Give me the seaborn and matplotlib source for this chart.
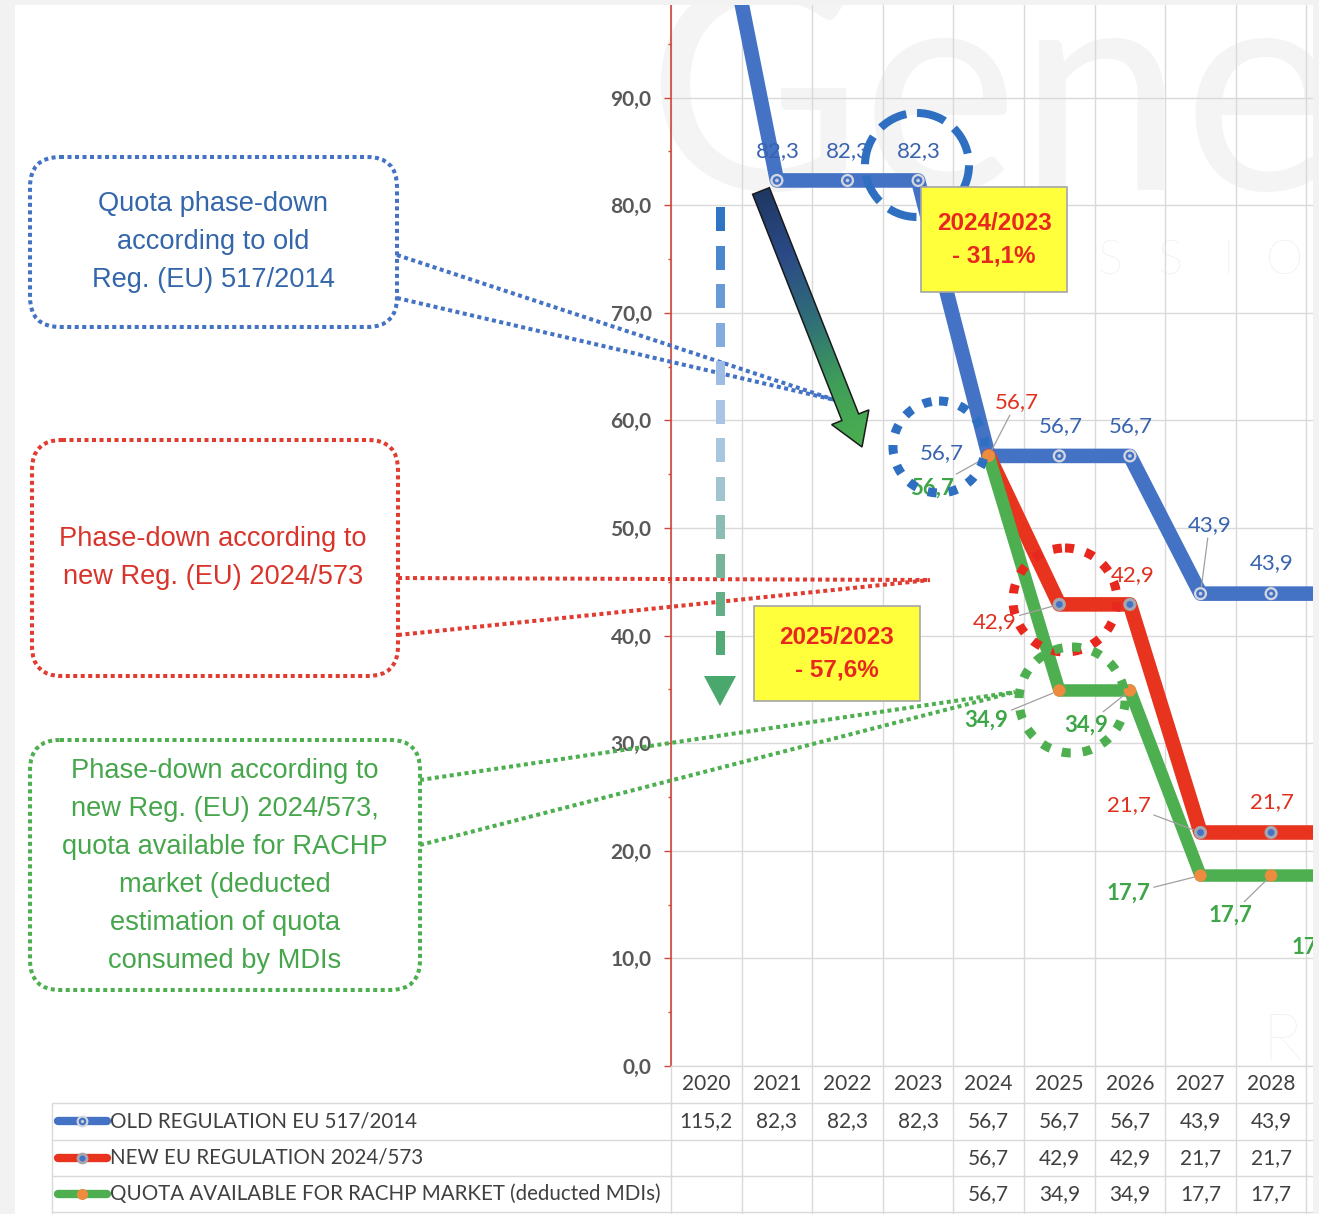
import numpy as np
import pandas as pd
import matplotlib
matplotlib.use("Agg")
import matplotlib.pyplot as plt
import matplotlib.transforms as mtransforms
from matplotlib.patches import Circle, Rectangle, FancyBboxPatch, FancyArrow, Polygon
from matplotlib.colors import LinearSegmentedColormap
import seaborn as sns

# ------------------------------------------------------------------ data
years = [2020, 2021, 2022, 2023, 2024, 2025, 2026, 2027, 2028, 2029]
old_regulation = [115.2, 82.3, 82.3, 82.3, 56.7, 56.7, 56.7, 43.9, 43.9, 43.9]
new_regulation = [None, None, None, None, 56.7, 42.9, 42.9, 21.7, 21.7, 21.7]
rachp_quota = [None, None, None, None, 56.7, 34.9, 34.9, 17.7, 17.7, 17.7]

series_names = [
    "OLD REGULATION EU 517/2014",
    "NEW EU REGULATION 2024/573",
    "QUOTA AVAILABLE FOR RACHP MARKET (deducted MDIs)",
]
y_ticks = [0, 10, 20, 30, 40, 50, 60, 70, 80, 90]

callout_texts = [
    "Quota phase-down\naccording to old\nReg. (EU) 517/2014",
    "Phase-down according to\nnew Reg. (EU) 2024/573",
    "Phase-down according to\nnew Reg. (EU) 2024/573,\nquota available for RACHP\nmarket (deducted\nestimation of quota\nconsumed by MDIs",
]

# ------------------------------------------------------------------ styling
W, H, DPI = 1319, 1214, 100
BLUE, RED, GREEN = "#4472C4", "#E8341E", "#4DAF4F"
BLUE_TXT, RED_TXT, GREEN_TXT = "#3863AE", "#E0301E", "#3EA548"
GRID = "#D9D9D9"
NARROW = ["Liberation Sans Narrow", "Liberation Sans", "DejaVu Sans"]

sns.set_theme(style="white")
plt.rcParams["font.family"] = ["Lato", "DejaVu Sans"]
plt.rcParams["lines.scale_dashes"] = False


def fmt(v):
    return f"{v:.1f}".replace(".", ",")


fig = plt.figure(figsize=(W / DPI, H / DPI), dpi=DPI)
fig.patch.set_facecolor("#F2F2F2")


def pixel_axes(z):
    a = fig.add_axes([0, 0, 1, 1], zorder=z)
    a.set_xlim(0, W)
    a.set_ylim(H, 0)
    a.axis("off")
    return a


# background panel and faint watermark
bg = pixel_axes(0)
bg.add_patch(Rectangle((15, 5), W - 15, H - 5, facecolor="white", edgecolor="none"))
bg.text(646, 190, "Gene", fontsize=213, color="#F4F4F4", fontweight="normal",
        ha="left", va="baseline")
for lx, letter in zip([1110, 1170, 1228, 1284], "SSIO"):
    bg.text(lx, 262, letter, fontsize=34, color="#E8E8E8", fontweight="light",
            ha="center", va="center")
bg.text(1282, 1042, "R", fontsize=48, color="#EFEFEF", fontweight="light",
        ha="center", va="center")

# ------------------------------------------------------------------ main axes
PLOT_L, PLOT_T, PLOT_B = 671, 5, 1066
CAT_W, PX_PER_UNIT = 70.6, 10.76
n = len(years)
ax = fig.add_axes([PLOT_L / W, (H - PLOT_B) / H, n * CAT_W / W, (PLOT_B - PLOT_T) / H],
                  zorder=1)
ax.patch.set_alpha(0)
ax.set_xlim(-0.5, n - 0.5)
ax.set_ylim(0, (PLOT_B - PLOT_T) / PX_PER_UNIT)

ax.set_xticks(np.arange(n + 1) - 0.5)
ax.set_xticklabels([])
ax.tick_params(axis="x", length=0, bottom=False)
ax.set_yticks(y_ticks)
ax.set_yticklabels([fmt(t) for t in y_ticks], fontsize=15, fontweight="bold",
                   color="#595959")
ax.set_yticks(np.array(y_ticks) + 5, minor=True)
ax.tick_params(axis="y", which="major", left=True, length=5, width=1,
               color="#D0463A", direction="out", pad=9)
ax.tick_params(axis="y", which="minor", left=True, length=2.5, width=1,
               color="#D0463A", direction="out")
ax.grid(True, which="major", color=GRID, lw=1)
ax.grid(False, which="minor")
ax.set_axisbelow(True)
for s in ["top", "right"]:
    ax.spines[s].set_visible(False)
ax.spines["left"].set_color("#D0463A")
ax.spines["left"].set_linewidth(1.2)
ax.spines["bottom"].set_color(GRID)
ax.spines["bottom"].set_linewidth(1)

df = pd.DataFrame({
    "year": years * 3,
    "pos": list(range(n)) * 3,
    "value": pd.to_numeric(pd.Series(old_regulation + new_regulation + rachp_quota),
                           errors="coerce"),
    "series": sum([[s] * n for s in series_names], []),
}).dropna()

line_style = {
    series_names[0]: dict(color=BLUE, lw=10.5, z=2),
    series_names[1]: dict(color=RED, lw=10.5, z=3),
    series_names[2]: dict(color=GREEN, lw=9.0, z=4),
}
marker_style = {
    series_names[0]: [("#D4D7E0", 90), (BLUE, 38), ("#C9CEDC", 7)],
    series_names[1]: [("#A6A6AE", 90), (BLUE, 24)],
    series_names[2]: [("#ED8B3F", 80)],
}

for name in series_names:
    d = df[df["series"] == name]
    st = line_style[name]
    sns.lineplot(data=d, x="pos", y="value", ax=ax, color=st["color"],
                 linewidth=st["lw"], errorbar=None, legend=False,
                 solid_joinstyle="round", solid_capstyle="round", zorder=st["z"])
    for k, (c, size) in enumerate(marker_style[name]):
        sns.scatterplot(data=d, x="pos", y="value", ax=ax, color=c, s=size,
                        edgecolor="none", linewidth=0, legend=False,
                        zorder=st["z"] + 0.1 * (k + 1))
ax.set_xlabel("")
ax.set_ylabel("")

# data labels: offset in pixels (dx, dy), leader line flag
label_pos = {
    series_names[0]: {2021: (1, 29, False), 2022: (0, 29, False), 2023: (1, 29, False),
                      2024: (-47, 3, False), 2025: (1, 30, False), 2026: (1, 30, False),
                      2027: (9, 69, True), 2028: (1, 31, False), 2029: (1, 31, False)},
    series_names[1]: {2024: (28, 54, True), 2025: (-65, -18, True), 2026: (3, 29, False),
                      2027: (-72, 27, True), 2028: (1, 30, False), 2029: (1, 30, False)},
    series_names[2]: {2024: (-57, -32, True), 2025: (-73, -30, True),
                      2026: (-44, -35, True), 2027: (-72, -18, True),
                      2028: (-41, -40, True), 2029: (-28, -72, True)},
}
label_font = {
    series_names[0]: (BLUE_TXT, "normal"),
    series_names[1]: (RED_TXT, "normal"),
    series_names[2]: (GREEN_TXT, "bold"),
}
for name in series_names:
    d = df[df["series"] == name]
    col, wt = label_font[name]
    for _, row in d.iterrows():
        spec = label_pos[name].get(int(row["year"]))
        if spec is None:
            continue
        dx, dy, leader = spec
        ax.annotate(fmt(row["value"]), xy=(row["pos"], row["value"]), xytext=(dx, dy),
                    textcoords="offset pixels", ha="center", va="center",
                    color=col, fontsize=16, fontweight=wt, zorder=7,
                    arrowprops=dict(arrowstyle="-", color="#A0A0A0", lw=0.9,
                                    shrinkA=0, shrinkB=5) if leader else None)

# ------------------------------------------------------------------ overlay shapes
deco = pixel_axes(3)
tab = mtransforms.blended_transform_factory(ax.transData, deco.transData)

# data table under the plot
row_lines = [1103, 1139.5, 1176, 1212]
row_centres = [1121, 1158, 1194]
for y in row_lines:
    deco.plot([52, W], [y, y], color=GRID, lw=1, zorder=1)
deco.plot([52, 52], [1103, H], color=GRID, lw=1, zorder=1)
for b in np.arange(n + 1) - 0.5:
    deco.plot([b, b], [PLOT_B, H], color=GRID, lw=1, transform=tab, zorder=1)
for i, yr in enumerate(years):
    deco.text(i, 1084, str(yr), transform=tab, ha="center", va="center",
              fontsize=15, color="#404040")
for r, (name, vals) in enumerate(zip(series_names,
                                     [old_regulation, new_regulation, rachp_quota])):
    yc = row_centres[r]
    for i, v in enumerate(vals):
        if v is not None:
            deco.text(i, yc, fmt(v), transform=tab, ha="center", va="center",
                      fontsize=15, color="#404040")
    st = line_style[name]
    deco.plot([58, 107], [yc, yc], color=st["color"], lw=6, solid_capstyle="round")
    for c, size in marker_style[name]:
        deco.scatter([82], [yc], s=size * 0.8, color=c, zorder=3, linewidths=0)
    deco.text(110, yc, name, ha="left", va="center", fontsize=14.8, color="#404040")

# callout boxes with dotted pointers
dots = (0, (2.9, 2.5))
boxes = [
    dict(rect=(30, 157, 397, 327), anchors=[(397, 255), (397, 298)], tip=(835, 400),
         edge=BLUE, color="#3366AA", centre=(213, 242), spacing=1.58),
    dict(rect=(32, 440, 398, 676), anchors=[(398, 578), (398, 635)], tip=(930, 580),
         edge="#E03C31", color="#D9342B", centre=(213, 558), spacing=1.55),
    dict(rect=(30, 740, 420, 990), anchors=[(420, 780), (420, 845)], tip=(1015, 692),
         edge=GREEN, color="#46A64C", centre=(225, 866), spacing=1.60),
]
for txt, b in zip(callout_texts, boxes):
    x0, y0, x1, y1 = b["rect"]
    deco.add_patch(FancyBboxPatch((x0, y0), x1 - x0, y1 - y0,
                                  boxstyle="round,pad=0,rounding_size=30",
                                  facecolor="none", edgecolor=b["edge"], lw=2.9,
                                  linestyle=dots, zorder=4))
    for axp, ayp in b["anchors"]:
        deco.plot([axp, b["tip"][0]], [ayp, b["tip"][1]], color=b["edge"], lw=2.9,
                  linestyle=dots, dash_capstyle="butt", zorder=4)
    deco.text(*b["centre"], txt, color=b["color"], fontsize=19.6, family=NARROW,
              ha="center", va="center", linespacing=b["spacing"], zorder=5)

# highlight rings
deco.add_patch(Circle((917, 165), 52, facecolor="none", edgecolor="#2E6FC2", lw=5.8,
                      linestyle=(0, (21, 8.5)), zorder=6))
for (cx, cy), r, c in [((939, 447), 46, "#2E6FC2"), ((1065, 600), 52, "#E8281E"),
                       ((1072, 700), 53, GREEN)]:
    deco.add_patch(Circle((cx, cy), r, facecolor="none", edgecolor=c, lw=6.5,
                          linestyle=(0, (6.5, 8.6)), zorder=6))


# percentage change boxes, computed from the series
def change(a_series, a_year, b_series, b_year):
    a = a_series[years.index(a_year)]
    b = b_series[years.index(b_year)]
    return (a / b - 1) * 100


pct_boxes = [
    ((921, 187, 1067, 292), f"2024/2023\n- {fmt(abs(change(new_regulation, 2024, old_regulation, 2023)))}%"),
    ((754, 606, 920, 701), f"2025/2023\n- {fmt(abs(change(rachp_quota, 2025, old_regulation, 2023)))}%"),
]
for (x0, y0, x1, y1), txt in pct_boxes:
    deco.add_patch(Rectangle((x0, y0), x1 - x0, y1 - y0, facecolor="#FFFF3C",
                             edgecolor="#A6A6A6", lw=1.2, zorder=7))
    deco.text((x0 + x1) / 2, (y0 + y1) / 2, txt, color="#E8281E", fontsize=17.5,
              fontweight="bold", family=NARROW, ha="center", va="center",
              linespacing=1.55, zorder=8)

# gradient arrow
tail = np.array([761.0, 191.0])
tip = np.array([862.0, 447.0])
vec = tip - tail
arrow = FancyArrow(tail[0], tail[1], vec[0], vec[1], width=18, head_width=40,
                   head_length=32, length_includes_head=True, facecolor="none",
                   edgecolor="#1A1A1A", lw=1.1, zorder=9)
deco.add_patch(arrow)
gx0, gx1, gy0, gy1 = 720, 900, 170, 470
gx, gy = np.meshgrid(np.linspace(gx0, gx1, 200), np.linspace(gy0, gy1, 300))
t = np.clip(((gx - tail[0]) * vec[0] + (gy - tail[1]) * vec[1]) / (vec @ vec), 0, 1)
grad_cmap = LinearSegmentedColormap.from_list(
    "navy_green", ["#1F3864", "#2B4A86", "#2F6E78", "#3F9E58", "#4CAF50"])
im = deco.imshow(t, cmap=grad_cmap, extent=(gx0, gx1, gy1, gy0), origin="upper",
                 aspect="auto", zorder=8.5, interpolation="bilinear")
im.set_clip_path(arrow)

# vertical dashed arrow
dash_cmap = LinearSegmentedColormap.from_list(
    "fade", ["#2F74C4", "#6E9ED8", "#A9C4E6", "#A8C8DC", "#7DB59E", "#52AA76"])
n_dash = 12
for k in range(n_dash):
    y = 207 + 38.5 * k
    deco.add_patch(Rectangle((715.5, y), 9, 24, color=dash_cmap(k / (n_dash - 1)),
                             zorder=5, linewidth=0))
deco.add_patch(Polygon([(704, 676), (736, 676), (720, 706)], closed=True,
                       color="#4AA86E", zorder=5, linewidth=0))

# frame edges of the cropped slide
deco.add_patch(Rectangle((1313, 0), W - 1313, H, color="#F2F2F2", zorder=20, lw=0))
deco.add_patch(Rectangle((0, 0), W, 5, color="#F2F2F2", zorder=20, lw=0))
deco.add_patch(Rectangle((0, 0), 15, H, color="#F2F2F2", zorder=20, lw=0))

fig.savefig("out.png", dpi=DPI, facecolor=fig.get_facecolor())
